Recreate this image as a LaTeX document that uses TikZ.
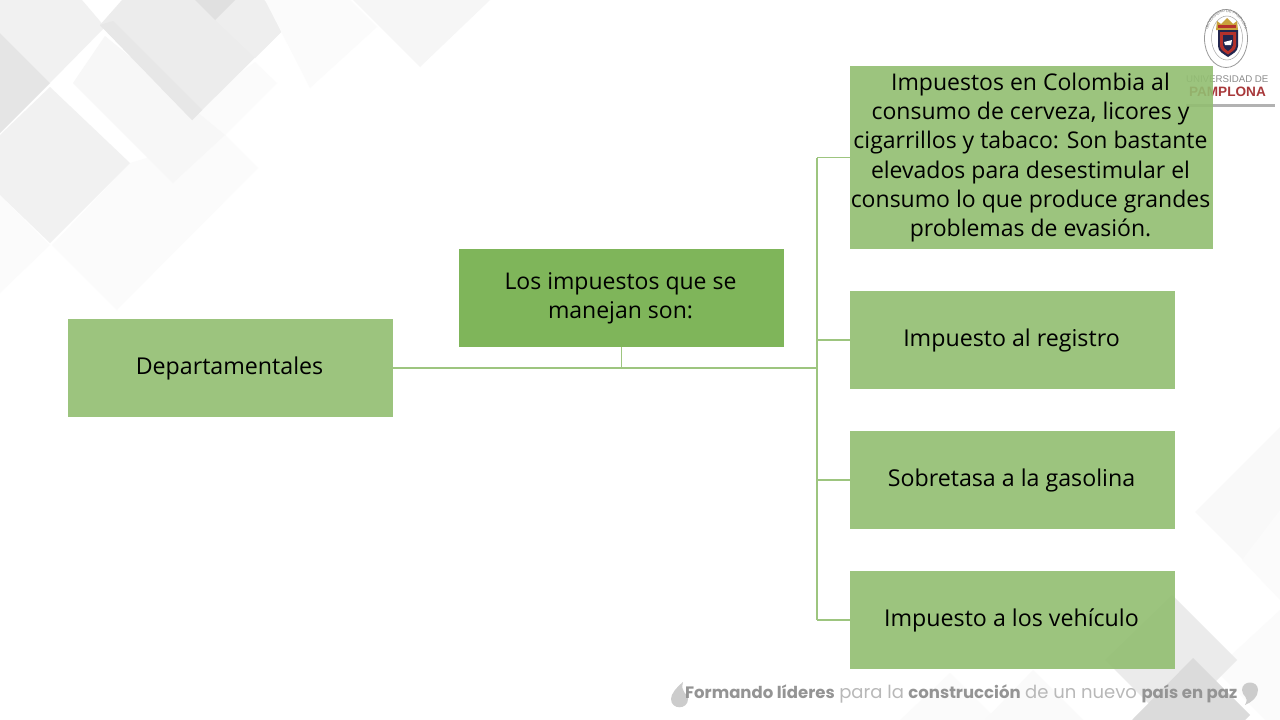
\documentclass[tikz,border=0pt]{standalone}
\usepackage{fontspec}
\usetikzlibrary{decorations.text}
\setmainfont{Open Sans}
\newfontfamily\slogan{Poppins}
\newfontfamily\logofont{Liberation Sans}
\definecolor{boxgreen}{HTML}{92BE71}
\definecolor{midgreen}{HTML}{7FB55A}
\definecolor{linegreen}{HTML}{9DC57F}
\definecolor{crown}{HTML}{C9A23C}
\definecolor{shieldred}{HTML}{B5312B}
\definecolor{shieldnavy}{HTML}{23274F}
\definecolor{pamp}{HTML}{A8383A}
\newcommand{\boldpart}[1]{{\color{black!42}\fontsize{16.5}{20}\selectfont\bfseries #1}}
\newcommand{\lightpart}[1]{{\color{black!28}\fontsize{18}{20}\selectfont #1}}
\newcommand{\lbl}[1]{\raisebox{-1pt}{\hspace*{-2pt}#1}}
\newcommand{\mlbl}[2]{\raisebox{-.8pt}{\hspace*{-2pt}\fontsize{23}{#1}\selectfont\begin{tabular}{@{}c@{}}#2\end{tabular}}}
\tikzset{
  x=1pt,y=-1pt,
  box/.style={fill=boxgreen,fill opacity=.9,text opacity=1,text=black,inner sep=0pt,outer sep=0pt,align=center,
    font=\fontsize{23.2}{29.6}\selectfont,minimum height=98pt,minimum width=325pt},
  midbox/.style={box,fill=midgreen,fill opacity=1},
  tallbox/.style={box,minimum width=363pt,minimum height=183pt},
  conn/.style={draw=linegreen,line width=1.2pt},
  connthick/.style={draw=linegreen,line width=2pt},
  logotxt/.style={inner sep=0pt,outer sep=0pt,anchor=west},
}
\begin{document}
\begin{tikzpicture}
\useasboundingbox (0,0) rectangle (1280,720);
\fill[white] (0,0) rectangle (1280,720);
\begin{scope}
\clip (0,0) rectangle (1280,720);
% top-left background
\fill[black!1.5] (52,245) -- (117,310) -- (258,168) -- (225,135) -- (130,163) -- cycle;
\fill[black!1.5] (0,195) -- (50,245) -- (0,293) -- cycle;
\fill[black!1.5] (225,135) -- (277,83) -- (255,62) -- (190,110) -- cycle;
\fill[black!3] (105,36) -- (73,83) -- (173,183) -- (225,135) -- cycle;
\fill[black!5.5] (0,135) -- (50,87) -- (130,163) -- (50,243) -- (0,195) -- cycle;
\fill[black!5.5] (0,0) -- (82,0) -- (105,27) -- (50,83) -- (0,33) -- cycle;
\fill[black!10] (0,33) -- (50,83) -- (0,133) -- cycle;
\fill[black!7.5] (122,0) -- (100,25) -- (192,120) -- (288,25) -- (264,0) -- cycle;
\fill[black!6.5] (215,20) -- (235,0) -- (264,0) -- (288,25) -- (255,58) -- cycle;
\fill[black!9.5] (100,25) -- (192,120) -- (202,110) -- (113,21) -- cycle;
\fill[black!12] (195,0) -- (215,20) -- (235,0) -- cycle;
\fill[black!1.5] (265,0) -- (310,88) -- (377,27) -- (350,0) -- cycle;
\fill[black!3.5] (353,0) -- (420,67) -- (490,0) -- cycle;
% bottom-right background
\fill[black!2.5] (1280,427) -- (1195,512) -- (1280,597) -- cycle;
\fill[black!1.5] (1280,510) -- (1242,560) -- (1280,600) -- cycle;
\fill[black!1.5] (1280,610) -- (1215,670) -- (1265,720) -- (1280,720) -- cycle;
\fill[black!1.5] (900,720) -- (950,673) -- (997,720) -- cycle;
\fill[black!2] (1033,670) -- (1083,720) -- (985,720) -- cycle;
\fill[black!8] (1172,595) -- (1237,660) -- (1177,720) -- (1165,720) -- (1105,660) -- cycle;
\fill[black!14] (1193,658) -- (1250,715) -- (1245,720) -- (1132,720) -- cycle;
\end{scope}
% logo
\draw[black!40,fill=white,line width=.8pt] (1226,38.5) ellipse [x radius=21.5,y radius=29];
\draw[black!35,line width=.5pt] (1227,38) ellipse [x radius=15.5,y radius=22];
\path[decorate,decoration={text along path,text align=center,
  text={|\logofont\fontsize{3.8}{4}\selectfont\color{black!55}|UNIVERSIDAD DE PAMPLONA}}]
  (1207.5,44) arc [start angle=165,end angle=375,x radius=19.5,y radius=25];
\fill[crown] (1216,30) -- (1217,21) -- (1221,24) -- (1227,18) -- (1233,24) -- (1237,21) -- (1238,30) -- cycle;
\fill[shieldred] (1218,25) rectangle (1236,28);
\fill[shieldnavy] (1218,30) -- (1238,30) -- (1238,46) .. controls (1238,52) and (1232,54) .. (1228,57) .. controls (1224,54) and (1218,52) .. (1218,46) -- cycle;
\fill[shieldred] (1220,32) -- (1236,32) -- (1236,46) .. controls (1236,50) and (1231,52) .. (1228,54.5) .. controls (1225,52) and (1220,50) .. (1220,46) -- cycle;
\fill[shieldnavy] (1223,35) -- (1233,35) -- (1233,45) .. controls (1233,48) and (1230,49) .. (1228,51) .. controls (1226,49) and (1223,48) .. (1223,45) -- cycle;
\fill[white] (1224,42) -- (1232,40) -- (1231,45) -- (1225,45) -- cycle;
\node[logotxt,text=black!45,font=\logofont\fontsize{9.7}{10}\selectfont] (univ) at (1186,79.5) {UNIVERSIDAD DE};
\node[logotxt,text=pamp,font=\logofont\bfseries\fontsize{13.6}{14}\selectfont] (pamp) at (1189,92) {PAMPLONA};
\fill[black!30] (1186,104) rectangle (1275,106.5);
% slogan
\fill[black!20] (683,682) .. controls (676,688) and (671,694) .. (671,699) .. controls (671,710) and (688,710) .. (688,699) .. controls (688,693) and (680,693) .. (683,682) -- cycle;
\fill[black!20] (1245,705) .. controls (1252,702) and (1258,697) .. (1258,690) .. controls (1258,680) and (1242,680) .. (1242,690) .. controls (1242,697) and (1250,696) .. (1245,705) -- cycle;
\node[anchor=west,inner sep=0pt,font=\slogan\fontsize{17}{20}\selectfont] (sl) at (685,693.5)
  {\boldpart{Formando líderes} \lightpart{para la} \boldpart{construcción} \lightpart{de un nuevo} \boldpart{país en paz}};
% boxes
\node[box] (dep) at (230.5,368) {\lbl{Departamentales}};
\node[midbox] (imp) at (621.5,298) {\mlbl{29.6}{Los impuestos que se\\manejan son:}};
\node[tallbox] (cer) at (1031.5,157.5) {\mlbl{29.3}{Impuestos en Colombia al\\consumo de cerveza, licores y\\cigarrillos y tabaco: Son bastante\\elevados para desestimular el\\consumo lo que produce grandes\\problemas de evasión.}};
\node[box] (reg) at (1012.5,340) {\lbl{Impuesto al registro}};
\node[box] (gas) at (1012.5,480) {\lbl{Sobretasa a la gasolina}};
\node[box] (veh) at (1012.5,620) {\lbl{Impuesto a los vehículo}};
% connectors
\coordinate (j1) at (imp.south |- dep.east);
\coordinate (trunk) at (817,368);
\draw[connthick] (dep.east) -- (j1);
\draw[conn] (imp.south) -- (j1) -- (trunk);
\draw[conn] (trunk |- cer.west) -- (trunk |- veh.west);
\draw[conn] (trunk |- cer.west) -- (cer.west);
\draw[conn] (trunk |- reg.west) -- (reg.west);
\draw[conn] (trunk |- gas.west) -- (gas.west);
\draw[conn] (trunk |- veh.west) -- (veh.west);
\end{tikzpicture}
\end{document}
